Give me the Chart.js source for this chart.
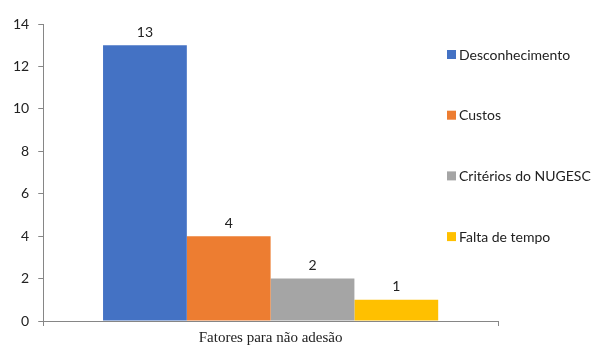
<!DOCTYPE html>
<html>
<head>
<meta charset="utf-8">
<script src="https://cdn.jsdelivr.net/npm/chart.js@4/dist/chart.umd.min.js"></script>
<style>
html,body{margin:0;padding:0;background:#fff;}
#wrap{width:592px;height:351px;position:relative;}
</style>
</head>
<body>
<div id="wrap"><canvas id="c" width="592" height="351"></canvas></div>
<script>
const categories = ["Fatores para não adesão"];
const seriesNames = ["Desconhecimento", "Custos", "Critérios do NUGESC", "Falta de tempo"];
const seriesValues = [13, 4, 2, 1];
const seriesColors = ["#4472C4", "#ED7D31", "#A5A5A5", "#FFC000"];
const yTicks = [0, 2, 4, 6, 8, 10, 12, 14];

const sansFont = "Lato, 'Liberation Sans', sans-serif";
const axisColor = "#868686";

const datasets = seriesNames.map((name, i) => ({
  label: name,
  data: [seriesValues[i]],
  backgroundColor: seriesColors[i],
  borderWidth: 0,
  categoryPercentage: 0.737,
  barPercentage: 1.0
}));

const valueLabels = {
  id: "valueLabels",
  afterDatasetsDraw(chart) {
    const ctx = chart.ctx;
    ctx.save();
    ctx.font = "14px " + sansFont;
    ctx.fillStyle = "#222";
    ctx.textAlign = "center";
    ctx.textBaseline = "bottom";
    chart.data.datasets.forEach((ds, i) => {
      const meta = chart.getDatasetMeta(i);
      meta.data.forEach((bar, j) => {
        ctx.fillText(String(ds.data[j]), bar.x, bar.y - 6);
      });
    });
    ctx.restore();
  }
};

const sideLegend = {
  id: "sideLegend",
  afterDraw(chart) {
    const ctx = chart.ctx;
    ctx.save();
    ctx.font = "14px " + sansFont;
    ctx.textBaseline = "middle";
    ctx.textAlign = "left";
    const x0 = chart.chartArea.right - 51;
    const top = 54.5, step = 60.7;
    chart.data.datasets.forEach((ds, i) => {
      const cy = top + i * step;
      ctx.fillStyle = ds.backgroundColor;
      ctx.fillRect(x0, cy - 4.5, 9, 9);
      ctx.fillStyle = "#222";
      ctx.fillText(ds.label, x0 + 12, cy + 0.5);
    });
    ctx.restore();
  }
};

new Chart(document.getElementById("c"), {
  type: "bar",
  data: { labels: categories, datasets: datasets },
  options: {
    responsive: false,
    animation: false,
    layout: { padding: { left: 4, right: 94, top: 24, bottom: 0 } },
    plugins: {
      legend: { display: false },
      tooltip: { enabled: false }
    },
    scales: {
      x: {
        offset: true,
        grid: { display: true, drawOnChartArea: false, drawTicks: true, tickLength: 5, color: axisColor, offset: true },
        border: { display: true, color: axisColor, width: 1 },
        ticks: { color: "#222", padding: 5, font: { family: "'Liberation Serif', 'Times New Roman', serif", size: 15, lineHeight: 1.0 } }
      },
      y: {
        min: 0,
        max: 14,
        afterBuildTicks(scale) { scale.ticks = yTicks.map(v => ({ value: v })); },
        grid: { display: true, drawOnChartArea: false, drawTicks: true, tickLength: 5, color: axisColor },
        border: { display: true, color: axisColor, width: 1 },
        ticks: { color: "#222", padding: 9, font: { family: sansFont, size: 14 } }
      }
    }
  },
  plugins: [valueLabels, sideLegend]
});
</script>
</body>
</html>
